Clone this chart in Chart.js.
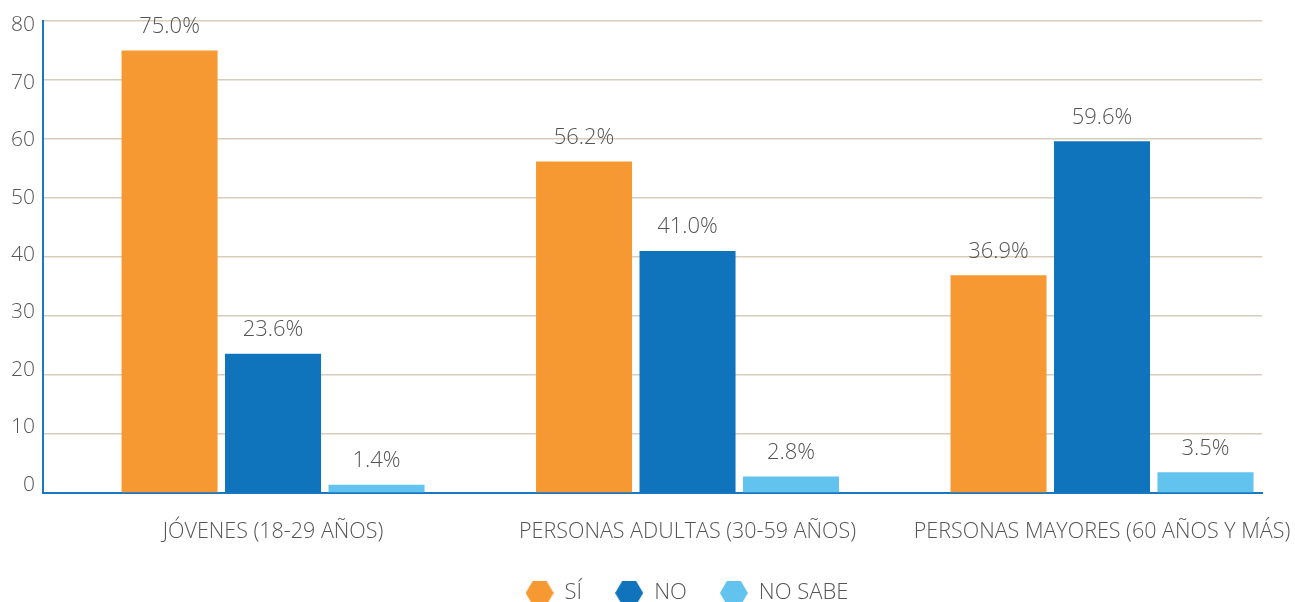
<!DOCTYPE html>
<html>
<head>
<meta charset="utf-8">
<script src="https://cdn.jsdelivr.net/npm/chart.js@4/dist/chart.umd.min.js"></script>
<style>
  html, body { margin: 0; padding: 0; background: #ffffff; }
  #wrap { width: 1295px; height: 602px; position: relative; }
</style>
</head>
<body>
<div id="wrap"><canvas id="c" width="1295" height="602"></canvas></div>
<script>
const categories = ['JÓVENES (18-29 AÑOS)', 'PERSONAS ADULTAS (30-59 AÑOS)', 'PERSONAS MAYORES (60 AÑOS Y MÁS)'];
const seriesNames = ['SÍ', 'NO', 'NO SABE'];
const siValues = [75.0, 56.2, 36.9];
const noValues = [23.6, 41.0, 59.6];
const noSabeValues = [1.4, 2.8, 3.5];
const yTickValues = [0, 10, 20, 30, 40, 50, 60, 70, 80];

const colors = ['#f79932', '#1074bc', '#62c4ee'];
const FONT = "'Open Sans', 'DejaVu Sans', sans-serif";
const TEXT = '#555555';

function hexagon(color) {
  const c = document.createElement('canvas');
  c.width = 28; c.height = 24;
  const g = c.getContext('2d');
  g.fillStyle = color;
  g.beginPath();
  g.moveTo(0, 12); g.lineTo(7, 0); g.lineTo(21, 0);
  g.lineTo(28, 12); g.lineTo(21, 24); g.lineTo(7, 24);
  g.closePath(); g.fill();
  return c;
}
const hexes = colors.map(hexagon);

const allSeries = [siValues, noValues, noSabeValues];
const datasets = allSeries.map((vals, s) => ({
  label: seriesNames[s],
  data: vals.map((v, i) => ({ x: i, y: v })),
  backgroundColor: colors[s],
  borderWidth: 0,
  pointStyle: hexes[s],
  xAxisID: 'x',
  yAxisID: 'y',
  categoryPercentage: 0.749,
  barPercentage: 0.928
}));

const valueLabels = {
  id: 'valueLabels',
  afterDatasetsDraw(chart) {
    const ctx = chart.ctx;
    ctx.save();
    ctx.font = '300 22px ' + FONT;
    ctx.fillStyle = TEXT;
    ctx.textAlign = 'center';
    ctx.textBaseline = 'middle';
    chart.data.datasets.forEach((ds, di) => {
      const meta = chart.getDatasetMeta(di);
      meta.data.forEach((bar, i) => {
        const v = allSeries[di][i];
        ctx.fillText(v.toFixed(1) + '%', bar.x, bar.y - 24);
      });
    });
    ctx.restore();
  }
};

const legendTweak = {
  id: 'legendTweak',
  afterInit(chart) {
    const lg = chart.legend;
    if (!lg) return;
    const origFit = lg.fit.bind(lg);
    lg.fit = function () { origFit(); this.height = 53; };
    const origDraw = lg.draw.bind(lg);
    lg.draw = function () {
      const ctx = chart.ctx;
      ctx.save(); ctx.translate(56, 0); origDraw(); ctx.restore();
    };
  }
};

new Chart(document.getElementById('c'), {
  type: 'bar',
  data: { datasets },
  plugins: [valueLabels, legendTweak],
  options: {
    responsive: false,
    animation: false,
    layout: { padding: { top: 21, right: 33, left: 0, bottom: 0 } },
    plugins: {
      tooltip: { enabled: false },
      legend: {
        position: 'bottom',
        labels: {
          usePointStyle: true,
          pointStyleWidth: 28,
          boxHeight: 24,
          padding: 33,
          color: TEXT,
          font: { family: FONT, size: 22, weight: 300 },
          generateLabels(chart) {
            return chart.data.datasets.map((ds, i) => ({
              text: ds.label,
              fillStyle: colors[i],
              strokeStyle: colors[i],
              lineWidth: 0,
              pointStyle: hexes[i],
              fontColor: TEXT,
              hidden: false,
              datasetIndex: i
            }));
          }
        }
      }
    },
    scales: {
      x: {
        type: 'linear',
        offset: false,
        min: -0.555,
        max: 2.386,
        grid: { display: false, drawTicks: false, offset: false },
        border: { display: true, color: '#1a78c2', width: 2 },
        ticks: {
          color: TEXT,
          padding: 26,
          font: { family: FONT, size: 21.5, weight: 300 },
          maxRotation: 0,
          autoSkip: false,
          callback: (v) => categories[v] !== undefined ? categories[v] : ''
        },
        afterBuildTicks(scale) { scale.ticks = categories.map((_, i) => ({ value: i })); },
        afterFit(scale) { scale.paddingLeft = 0; scale.paddingRight = 0; scale.height = 56; }
      },
      yl: {
        position: 'left',
        weight: 2,
        min: -1.39,
        max: 80.7,
        grid: { display: false, drawTicks: false },
        border: { display: false },
        ticks: {
          color: TEXT,
          padding: 8,
          font: { family: FONT, size: 21, weight: 300 }
        },
        afterBuildTicks(scale) { scale.ticks = yTickValues.map(v => ({ value: v })); },
        afterFit(scale) { scale.width = 43; scale.paddingTop = 0; scale.paddingBottom = 0; }
      },
      y: {
        position: 'left',
        weight: 0,
        min: 0,
        max: 80,
        grid: { color: '#d8cdbb', lineWidth: 1.5, drawTicks: false },
        border: { display: true, color: '#1a78c2', width: 2 },
        ticks: { display: false, stepSize: 10 },
        afterFit(scale) { scale.width = 0; scale.paddingTop = 0; scale.paddingBottom = 0; }
      }
    }
  }
});
</script>
</body>
</html>
